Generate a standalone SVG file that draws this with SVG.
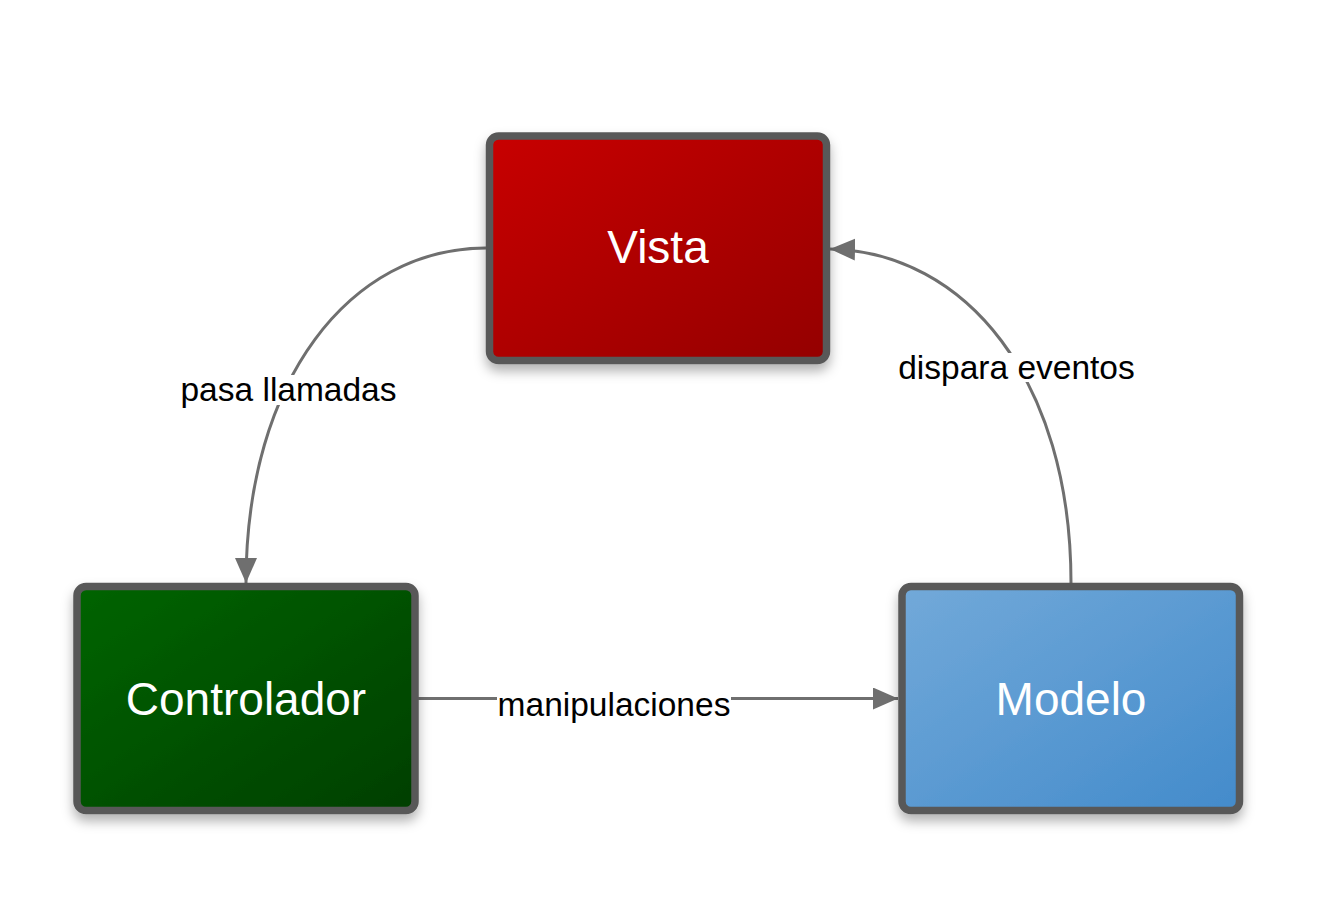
<svg xmlns="http://www.w3.org/2000/svg" width="1341" height="906" viewBox="0 0 1341 906">
<style>
.box{stroke:#595959;stroke-width:7.5;}
.ntext{font-family:"Liberation Sans",Arial,sans-serif;font-size:46px;fill:#ffffff;text-anchor:middle;}
.ltext{font-family:"Liberation Sans",Arial,sans-serif;font-size:33.5px;fill:#000000;text-anchor:middle;}
.conn{fill:none;stroke:#6f6f6f;stroke-width:3;}
.lbg{fill:#ffffff;}
</style>
<defs>
<linearGradient id="gRed" x1="0" y1="0" x2="1" y2="1">
<stop offset="0" stop-color="#c80000"/>
<stop offset="1" stop-color="#940000"/>
</linearGradient>
<linearGradient id="gGreen" x1="0" y1="0" x2="1" y2="1">
<stop offset="0" stop-color="#006400"/>
<stop offset="1" stop-color="#003f00"/>
</linearGradient>
<linearGradient id="gBlue" x1="0" y1="0" x2="1" y2="1">
<stop offset="0" stop-color="#72a9d9"/>
<stop offset="1" stop-color="#438bcb"/>
</linearGradient>
<filter id="shadow" x="-20%" y="-20%" width="140%" height="150%">
<feDropShadow dx="0" dy="7" stdDeviation="6" flood-color="#000000" flood-opacity="0.3"/>
</filter>
<marker id="arrow" markerUnits="userSpaceOnUse" markerWidth="26" markerHeight="24" refX="25" refY="11" orient="auto">
<path d="M0,0 L25,11 L0,22 z" fill="#6f6f6f"/>
</marker>
</defs>

<g id="connectors">
<path class="conn" d="M486,248 C350,248 246,380 246,583" marker-end="url(#arrow)"/>
<path class="conn" d="M1071,583 C1071,380 966,252 830,249" marker-end="url(#arrow)"/>
<path class="conn" d="M418,698.5 L898,698.5" marker-end="url(#arrow)"/>
</g>

<g id="node-vista">
<rect class="box" x="489.5" y="136" width="337" height="224.5" rx="9" fill="url(#gRed)" filter="url(#shadow)"/>
<text class="ntext" x="658" y="263">Vista</text>
</g>

<g id="node-controlador">
<rect class="box" x="77" y="586.5" width="338" height="224" rx="9" fill="url(#gGreen)" filter="url(#shadow)"/>
<text class="ntext" x="246" y="715">Controlador</text>
</g>

<g id="node-modelo">
<rect class="box" x="902" y="586.5" width="337.5" height="224" rx="9" fill="url(#gBlue)" filter="url(#shadow)"/>
<text class="ntext" x="1071" y="715">Modelo</text>
</g>

<g id="labels">
<g id="label-pasa">
<rect class="lbg" x="180" y="375" width="218" height="30"/>
<text class="ltext" x="288.5" y="401">pasa llamadas</text>
</g>
<g id="label-dispara">
<rect class="lbg" x="897" y="353" width="240" height="29"/>
<text class="ltext" x="1016.5" y="379">dispara eventos</text>
</g>
<g id="label-manip">
<rect class="lbg" x="497" y="688" width="234" height="30"/>
<text class="ltext" x="614" y="716">manipulaciones</text>
</g>
</g>
</svg>
